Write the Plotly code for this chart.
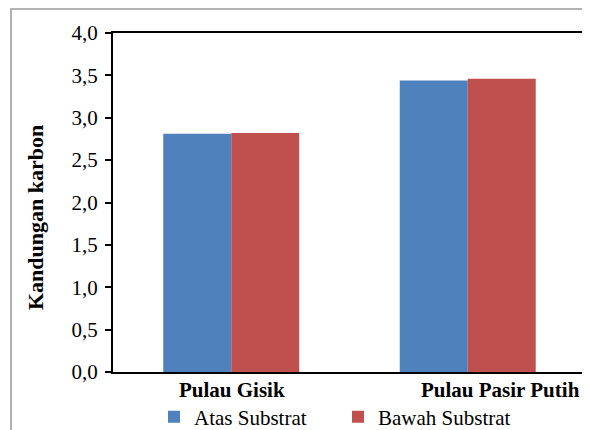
import plotly.graph_objects as go

categories = ["Pulau Gisik", "Pulau Pasir Putih"]
atas = [2.81, 3.44]
bawah = [2.82, 3.46]
series_names = ["Atas Substrat", "Bawah Substrat"]
colors = ["#4F81BD", "#C0504D"]
y_title = "Kandungan karbon"
label_xshift = [1, 33]

FONT = "Liberation Serif"
W, H = 582, 422  # page body margin of 8px pushes the figure right/down
L, T, R, B = 105, 25, 4, 58
PW, PH = W - L - R, H - T - B

fig = go.Figure()
for name, vals, col in zip(series_names, [atas, bawah], colors):
    fig.add_trace(go.Bar(
        x=categories, y=vals, name=name,
        marker=dict(color=col, line=dict(width=0)),
    ))

for cat, dx in zip(categories, label_xshift):
    fig.add_annotation(
        x=cat, y=0, xref="x", yref="paper", yanchor="middle",
        yshift=-18, xshift=dx, text="<b>%s</b>" % cat, showarrow=False,
        font=dict(family=FONT, size=21, color="black"),
    )

# y axis title
fig.add_annotation(
    x=(27 - L) / PW, y=(H - B - 210) / PH, xref="paper", yref="paper",
    xanchor="center", yanchor="middle", textangle=-90, showarrow=False,
    text="<b>%s</b>" % y_title,
    font=dict(family=FONT, size=22, color="black"),
)

# outer chart border
fig.add_shape(type="rect", xref="paper", yref="paper",
              x0=(3 - L) / PW, x1=(580 - L) / PW,
              y0=-0.3, y1=(H - B - 1) / PH,
              line=dict(color="#9a9a9a", width=1.5), layer="below")

fig.update_layout(
    width=W, height=H,
    margin=dict(l=L, r=R, t=T, b=B),
    paper_bgcolor="white", plot_bgcolor="white",
    separators=",.",
    bargap=0.425, bargroupgap=0,
    font=dict(family=FONT, size=20, color="black"),
    showlegend=True,
    legend=dict(
        orientation="h", xref="container", yref="container",
        x=146 / W, y=1 - 409 / H, xanchor="left", yanchor="middle",
        entrywidth=139, entrywidthmode="pixels",
        font=dict(family=FONT, size=21, color="black"),
        bgcolor="rgba(0,0,0,0)", borderwidth=0,
        itemclick=False,
    ),
    xaxis=dict(
        showticklabels=False, ticks="", showgrid=False,
        showline=True, linecolor="black", linewidth=2, mirror=True,
    ),
    yaxis=dict(
        range=[0, 4], dtick=0.5, tick0=0, tickformat=".1f",
        ticks="outside", ticklen=6, tickwidth=1.5, tickcolor="black",
        showgrid=False, zeroline=False,
        showline=True, linecolor="black", linewidth=2, mirror=True,
        tickfont=dict(family=FONT, size=21, color="black"),
        ticklabelstandoff=3,
        automargin=False,
    ),
)

fig.write_html("out.html")
